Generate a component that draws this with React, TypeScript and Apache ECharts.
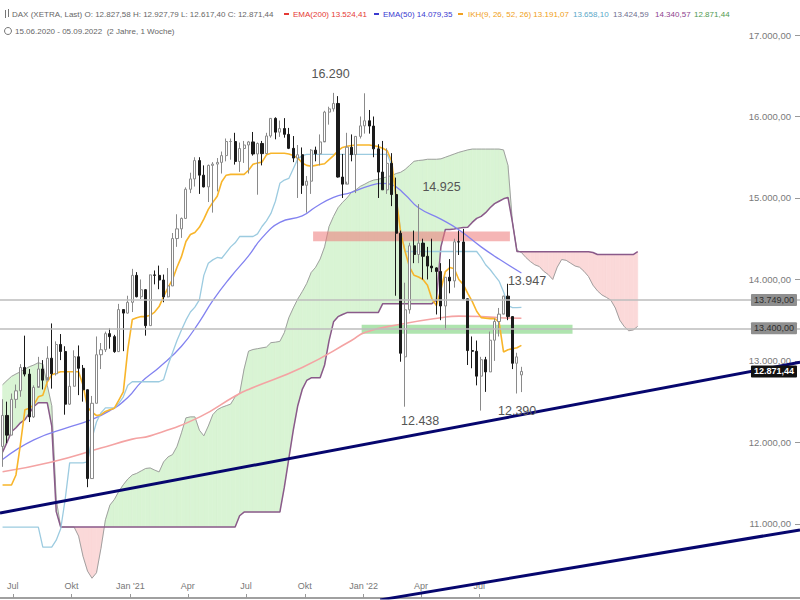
import React, { useEffect, useRef } from 'react';
import * as echarts from 'echarts';

const DAY = 86400000;
const ts = (s: string) => Date.parse(s + 'T00:00:00Z');

const firstWeek = '2020-06-15';
const axisStart = '2020-06-11';
const axisEnd = '2023-11-15';

// weekly candles (week 0 = 15.06.2020)
const candleOpen = [11950,12331,12089,12528,12633,12920,12838,12313,12675,12901,12764,13033,12842,13202,13116,12469,12689,13051,12909,12646,11556,12480,13076,13137,13335,13298,13114,13630,13587,13719,14050,13788,13874,13433,14056,14050,13993,13786,13920,14502,14621,14749,15107,15234,15459,15280,15136,15400,15416,15437,15520,15693,15693,15448,15607,15650,15688,15540,15669,15544,15761,15977,15808,15852,15781,15609,15490,15531,15156,15206,15587,15543,15688,16054,16094,16160,15257,15170,15623,15532,15756,15885,15948,15883,15603,15318,15100,15425,15042,14567,13050,13628,14413,14306,14446,14284,14164,14142,14098,13674,14027,13982,14462,14460,13762,13127,13118,12813,13015,12865,13254,13484,13574,13795,13544,12971,12828];
const candleClose = [12331,12089,12528,12633,12920,12838,12313,12675,12901,12764,13033,12842,13202,13116,12469,12689,13051,12909,12646,11556,12480,13076,13137,13335,13298,13114,13630,13587,13719,14050,13788,13874,13433,14056,14050,13993,13786,13920,14502,14621,14749,15107,15234,15459,15280,15136,15400,15416,15437,15520,15693,15693,15448,15607,15650,15688,15540,15669,15544,15761,15977,15808,15852,15781,15609,15490,15531,15156,15206,15587,15543,15688,16054,16094,16160,15257,15170,15623,15532,15756,15885,15948,15883,15603,15318,15100,15425,15042,14567,13094,13628,14413,14306,14446,14284,14164,14142,14098,13674,14027,13982,14462,14460,13762,13127,13118,12813,13015,12865,13254,13484,13574,13795,13544,12971,13050,12871.44];
const candleLow = [11700,11990,12090,12420,12560,12810,12250,12300,12690,12650,12800,12660,12820,13010,12340,12460,12700,12580,12500,11450,11560,12480,12900,13110,13150,13100,13110,13120,13580,13600,13780,13760,13310,13430,13940,13880,13720,13780,13920,14400,14510,14750,15060,15140,15050,15130,14950,14820,15080,15300,15450,15470,15410,15320,15430,15300,15520,15040,15400,15550,15740,15720,15750,15740,15600,15440,15000,15050,14820,15050,15450,15400,15700,15900,16060,15250,15000,15200,15450,15060,15730,15790,15790,15500,15000,15100,15050,14900,13800,12990,12438,13580,14200,14200,14000,14000,14090,13570,13500,13380,13830,13900,14300,13750,12950,12910,12700,12390,12620,12880,13000,13300,13580,13500,12900,12600,12617.4];
const candleHigh = [12530,12500,12600,12710,12960,13310,12900,12700,13050,13010,13180,13460,13240,13330,13180,12860,13130,13190,12950,12650,12570,13300,13220,13360,13400,13320,13700,13630,13800,14130,14090,14000,13880,14060,14110,14170,14060,14140,14570,14800,14760,15130,15310,15500,15500,15400,15410,15440,15490,15570,15730,15730,15800,15680,15700,15700,15810,15680,15700,15800,15980,15990,15950,15980,15860,15760,15650,15620,15270,15600,15630,15780,16070,16120,16290,16250,15540,15800,15780,15760,16000,16285,16080,16000,15660,15700,15610,15550,15250,14600,13960,14450,14600,14925,14500,14400,14500,14150,14200,14030,14250,14500,14600,14620,13620,13300,13250,13050,13050,13360,13520,13650,13800,13947,13550,13100,12927.79];

// Ichimoku
const tenkan = [11477,11477,11477,11600,11980,12400,12420,12460,12560,12580,12740,12830,12850,12867,12867,12867,12867,12867,12700,12430,12370,12330,12340,12380,12400,12420,12520,12620,13138,13507,13530,13544,13544,13560,13600,13667,13790,13900,14000,14150,14280,14466,14552,14577,14640,14740,14860,14946,15020,15200,15280,15290,15290,15290,15290,15340,15413,15430,15440,15530,15549,15549,15549,15549,15540,15520,15490,15430,15400,15389,15400,15410,15420,15470,15520,15580,15620,15635,15645,15650,15650,15650,15650,15640,15630,15610,15580,15450,15000,14577,14343,14150,14050,14030,13999,13930,13760,13680,13876,14097,14146,14130,14000,13940,13830,13730,13610,13531,13525,13519,13519,13480,13110,13138,13150,13162,13191.07];
const kijun = [10961,10961,10961,10961,10961,10961,10961,10961,10961,10715,10715,10715,10800,10940,11300,11748,11748,11748,11748,11760,12050,12250,12363,12424,12424,12424,12480,12560,12700,12744,12744,12744,12744,12744,12744,12744,12770,12950,13100,13250,13380,13500,13600,13660,13750,14050,14200,14240,14270,14260,14330,14400,14450,14527,14527,14527,14527,14560,14650,14720,14810,14960,15180,15220,15240,15360,15480,15520,15536,15536,15536,15536,15536,15536,15536,15536,15536,15536,15536,15536,15536,15536,15536,15536,15536,15536,15536,15400,15000,14600,14343,14343,14343,14343,14343,14343,14343,14343,14343,14343,14343,14343,14343,14343,14343,14343,14343,14270,14180,14122,14050,13980,13850,13680,13654,13654,13658.10];
const spanA = [12707,12760,12810,12840,12867,12900,12929,12950,12978,12960,12700,12450,11300,10961,10961,10961,10961,10850,10600,10420,10333,10400,10700,11050,11230,11300,11400,11480,11550,11600,11620,11650,11680,11686,11660,11637,11760,11822,11850,11950,12117,12301,12313,12313,12150,12080,12200,12340,12400,12430,12450,12470,12560,12600,12900,13120,13140,13150,13160,13170,13224,13230,13240,13347,13530,13650,13760,13850,13950,14085,14150,14250,14400,14650,14774,14880,14946,15000,15069,15100,15143,15170,15200,15220,15229,15245,15260,15275,15300,15315,15350,15400,15450,15460,15465,15475,15475,15475,15480,15500,15520,15540,15560,15575,15590,15600,15600,15600,15600,15600,15600,15600,15590,15400,14700,14360,14331,14270,14220,14180,14159,14100,14060,14000,14150,14245,14235,14200,14165,14150,14100,14036,13930,13860,13810,13780,13745,13650,13500,13421,13370,13380,13424.59];
const spanB = [11880,12000,12130,12180,12240,12280,12360,12440,12486,12486,12486,12200,11150,10961,10961,10961,10961,10961,10961,10961,10961,10961,10961,10961,10961,10961,10961,10961,10961,10961,10961,10961,10961,10961,10961,10961,10961,10961,10961,10961,10961,10961,10961,10961,10961,10961,10961,10961,10961,10961,10961,10961,10961,11100,11145,11145,11145,11145,11145,11145,11145,11145,11145,11450,11800,12150,12450,12650,12760,12793,12793,12793,12950,13250,13480,13543,13570,13593,13593,13593,13593,13593,13593,13593,13593,13703,13703,13703,13703,13703,13703,13703,13703,13703,13703,13703,13703,13750,14400,14614,14614,14620,14630,14638,14640,14700,14750,14774,14820,14880,14930,14960,14990,15007,14700,14343,14340,14340,14340,14340,14340,14340,14340,14340,14340,14340,14340,14340,14340,14340,14340,14340,14330,14306,14306,14306,14306,14306,14306,14306,14306,14306,14340.57];

// EMAs (sampled weeks)
const ema50Weeks = [0,7,15,19,24,28,31,35,40,44,47,51,55,58,62,67,70,74,78,82,85,87,90,93,98,102,107,111,116];
const ema50Values = [11790,12030,12190,12260,12390,12550,12740,12920,13180,13480,13740,14030,14290,14510,14700,14780,14890,15007,15070,15150,15180,15165,15040,14880,14740,14610,14400,14250,14079.35];
const ema200Weeks = [0,11,22,29,33,44,52,55,67,78,81,89,98,102,107,111,116];
const ema200Values = [11640,11760,11930,12040,12080,12310,12570,12650,12920,13250,13350,13450,13530,13550,13545,13530,13524.41];

// trend lines, zones, levels
const upperTrend: [string, number][] = [['2020-06-11', 11133], ['2023-11-15', 12983]];
const lowerTrend: [string, number][] = [['2022-01-27', 10067], ['2023-11-15', 10926]];
const zoneStart = ['2021-10-14', '2021-12-29'];
const zoneEnd = ['2022-08-18', '2022-11-24'];
const zoneLow = [14470, 13335];
const zoneHigh = [14590, 13445];
const priceLevels = [13749, 13400];
const lastClose = 12871.44;

const extremeWeeks = [74, 93, 113, 90, 107];
const extremeValues = [16290, 14925, 13947, 12438, 12390];
const extremeLabels = ['16.290', '14.925', '13.947', '12.438', '12.390'];

const tickDates = ['2020-07-01','2020-10-01','2021-01-01','2021-04-01','2021-07-01','2021-10-01','2022-01-01','2022-04-01','2022-07-01'];
const tickLabels = ['Jul', 'Okt', "Jan '21", 'Apr', 'Jul', 'Okt', "Jan '22", 'Apr', 'Jul'];
const yTicks = [11000, 12000, 13000, 14000, 15000, 16000, 17000];

const headerMain = 'DAX (XETRA, Last) O: 12.827,58 H: 12.927,79 L: 12.617,40 C: 12.871,44';
const headerRange = '15.06.2020 - 05.09.2022  (2 Jahre, 1 Woche)';
const headerItems = ['EMA(200) 13.524,41', 'EMA(50) 14.079,35', 'IKH(9, 26, 52, 26) 13.191,07', '13.658,10', '13.424,59', '14.340,57', '12.871,44'];

// ---------- layout / style ----------
const FONT = '"Liberation Sans", Arial, sans-serif';
const extremeOffsets = [[-3, -19], [23, -17], [19, -3], [15, 14], [36, 0]];
const headerX = [293, 383, 468, 573, 613, 655, 694];
const headerColors = ['#e53935', '#3a3ad0', '#f0a020', '#5aa8c8', '#6f6f8f', '#8e3f8e', '#4f9a4f'];
const dashX = [284, 374, 458];
const CLOUD_GREEN = '#d9f4d4';
const CLOUD_RED = '#fbd9d9';

const weekTs = (i: number) => ts(firstWeek) + i * 7 * DAY;

const de = (v: number, d: number) => {
  const s = v.toFixed(d);
  const [a, b] = s.split('.');
  const int = a.replace(/\B(?=(\d{3})+(?!\d))/g, '.');
  return b ? int + ',' + b : int;
};

function buildOption() {
  const candles = candleOpen.map((o, i) => [weekTs(i), o, candleClose[i], candleLow[i], candleHigh[i]]);
  const cloudSegments = spanA.slice(0, -1).map((a, i) => [weekTs(i), weekTs(i + 1), a, spanA[i + 1], spanB[i], spanB[i + 1]]);
  const lineData = (arr: number[]) => arr.map((v, i) => [weekTs(i), v]);
  const sampled = (w: number[], v: number[]) => w.map((wk, i) => [weekTs(wk), v[i]]);
  const tickTs = tickDates.map(ts);
  const zones = zoneStart.map((s, i) => [ts(s), ts(zoneEnd[i]), zoneLow[i], zoneHigh[i]]);
  const zoneColors = ['rgba(236,120,120,0.55)', 'rgba(110,205,110,0.55)'];

  const plainLine = (name: string, data: any[], color: string, width: number, z: number, smooth = false) => ({
    name, type: 'line', data, symbol: 'none', smooth, z, silent: true,
    lineStyle: { color, width }, emphasis: { disabled: true },
  });

  const levelLabel = (bg: string, fg: string, bold: boolean) => ({
    show: true, position: 'insideEnd', distance: 3,
    backgroundColor: bg, color: fg, padding: [2, 3, 1, 3], fontSize: 9,
    fontFamily: FONT, fontWeight: bold ? 'bold' : 'normal', borderRadius: 1,
  });

  const poly = (points: number[][], fill: string) => ({
    type: 'polygon', shape: { points }, style: { fill, stroke: fill, lineWidth: 0.6 },
  });

  const graphic: any[] = [
    { type: 'rect', shape: { x: 5, y: 10, width: 1, height: 8 }, style: { fill: '#777' } },
    { type: 'rect', shape: { x: 8, y: 9, width: 1, height: 8 }, style: { fill: '#777' } },
    { type: 'text', x: 12, y: 14, style: { text: headerMain, fill: '#666', fontSize: 8, fontFamily: FONT, verticalAlign: 'middle' } },
    { type: 'circle', shape: { cx: 8, cy: 31, r: 3.5 }, style: { fill: 'none', stroke: '#777', lineWidth: 1 } },
    { type: 'text', x: 15, y: 31, style: { text: headerRange, fill: '#666', fontSize: 8, fontFamily: FONT, verticalAlign: 'middle' } },
  ];
  dashX.forEach((x, i) => graphic.push({ type: 'rect', shape: { x, y: 13, width: 5, height: 2 }, style: { fill: headerColors[i] } }));
  headerItems.forEach((t, i) => graphic.push({
    type: 'text', x: headerX[i], y: 14,
    style: { text: t, fill: headerColors[i], fontSize: 8, fontFamily: FONT, verticalAlign: 'middle' },
  }));

  return {
    animation: false,
    backgroundColor: '#ffffff',
    textStyle: { fontFamily: FONT },
    grid: { left: 0, right: 0, top: 0, bottom: 2, containLabel: false, outerBoundsMode: 'none' },
    xAxis: {
      type: 'value', min: ts(axisStart), max: ts(axisEnd), scale: true,
      axisLine: { show: true, onZero: false, lineStyle: { color: '#a0a0a0', width: 2 } },
      axisTick: { show: true, inside: true, length: 4, customValues: tickTs, lineStyle: { color: '#999' } },
      axisLabel: {
        show: true, inside: true, margin: 8, color: '#777', fontSize: 9, fontFamily: FONT,
        customValues: tickTs,
        formatter: (v: number) => {
          let best = 0;
          tickTs.forEach((t, i) => { if (Math.abs(t - v) < Math.abs(tickTs[best] - v)) best = i; });
          return tickLabels[best];
        },
      },
      splitLine: { show: false },
    },
    yAxis: {
      type: 'value', position: 'right', min: 10090, max: 17430, scale: true,
      axisLine: { show: false },
      axisTick: { show: true, inside: true, length: 5, customValues: yTicks, lineStyle: { color: '#999' } },
      axisLabel: { show: true, inside: true, margin: 9, color: '#7a7a7a', fontSize: 9.5, fontFamily: FONT, customValues: yTicks, formatter: (v: number) => de(v, 2) },
      splitLine: { show: false },
    },
    graphic,
    series: [
      {
        type: 'custom', name: 'Wolke', z: 1, silent: true, clip: true, data: cloudSegments,
        encode: { x: [0, 1], y: [2, 3, 4, 5] },
        renderItem: (params: any, api: any) => {
          const t0 = api.value(0), t1 = api.value(1);
          const a0 = api.value(2), a1 = api.value(3), b0 = api.value(4), b1 = api.value(5);
          const pA0 = api.coord([t0, a0]), pA1 = api.coord([t1, a1]);
          const pB0 = api.coord([t0, b0]), pB1 = api.coord([t1, b1]);
          const d0 = a0 - b0, d1 = a1 - b1;
          const col = (d: number) => (d >= 0 ? CLOUD_GREEN : CLOUD_RED);
          const children: any[] = [];
          if (d0 * d1 < 0) {
            const t = d0 / (d0 - d1);
            const P = [pA0[0] + (pA1[0] - pA0[0]) * t, pA0[1] + (pA1[1] - pA0[1]) * t];
            children.push(poly([pA0, P, pB0], col(d0)));
            children.push(poly([P, pA1, pB1], col(d1)));
          } else {
            children.push(poly([pA0, pA1, pB1, pB0], col(d0 + d1)));
          }
          return { type: 'group', children };
        },
      },
      plainLine('Span A', lineData(spanA), '#a0a0a0', 1, 2),
      plainLine('Span B', lineData(spanB), '#8a5a8a', 1.5, 2),
      {
        type: 'custom', z: 3, silent: true, data: zones,
        encode: { x: [0, 1], y: [2, 3] },
        renderItem: (params: any, api: any) => {
          const p1 = api.coord([api.value(0), api.value(3)]);
          const p2 = api.coord([api.value(1), api.value(2)]);
          return { type: 'rect', shape: { x: p1[0], y: p1[1], width: p2[0] - p1[0], height: p2[1] - p1[1] }, style: { fill: zoneColors[params.dataIndex] } };
        },
      },
      plainLine('EMA200', sampled(ema200Weeks, ema200Values), '#f4a3a3', 1.6, 4, true),
      plainLine('EMA50', sampled(ema50Weeks, ema50Values), '#8282f0', 1.3, 4, true),
      plainLine('Kijun', lineData(kijun), '#9ccbe0', 1.3, 4),
      plainLine('Tenkan', lineData(tenkan), '#f8b52a', 1.6, 4),
      plainLine('Trend oben', upperTrend.map(p => [ts(p[0]), p[1]]), '#06066e', 3, 4.5),
      plainLine('Trend unten', lowerTrend.map(p => [ts(p[0]), p[1]]), '#06066e', 3, 4.5),
      {
        type: 'candlestick', data: candles, z: 5, barWidth: 2.6, silent: true,
        encode: { x: 0, y: [1, 2, 3, 4] },
        itemStyle: { color: '#ffffff', color0: '#1a1a1a', borderColor: '#8a8a8a', borderColor0: '#1a1a1a', borderWidth: 1 },
        markLine: {
          silent: true, symbol: ['none', 'none'], animation: false, z: 8,
          data: [
            ...priceLevels.map(v => ({ yAxis: v, lineStyle: { color: '#bdbdbd', width: 1.5, type: 'solid' }, label: { ...levelLabel('#8f8f8f', '#2e2e2e', false), formatter: de(v, 2) } })),
            { yAxis: lastClose, lineStyle: { color: 'rgba(0,0,0,0)', width: 0 }, label: { ...levelLabel('#111111', '#ffffff', true), formatter: de(lastClose, 2) } },
          ],
        },
        markPoint: {
          silent: true, animation: false,
          data: extremeWeeks.map((w, i) => ({
            coord: [weekTs(w), extremeValues[i]], symbol: 'circle', symbolSize: 1,
            itemStyle: { color: 'rgba(0,0,0,0)' },
            label: { show: true, position: 'inside', offset: extremeOffsets[i], formatter: extremeLabels[i], color: '#555', fontSize: 12.5, fontFamily: FONT },
          })),
        },
      },
    ],
  };
}

export default function App() {
  const ref = useRef<HTMLDivElement>(null);
  useEffect(() => {
    if (!ref.current) return;
    const chart = echarts.init(ref.current, null, { renderer: 'svg' });
    chart.setOption(buildOption() as any);
    return () => chart.dispose();
  }, []);
  return <div ref={ref} style={{ position: 'fixed', left: 0, top: 0, width: 800, height: 600, background: '#fff' }} />;
}
